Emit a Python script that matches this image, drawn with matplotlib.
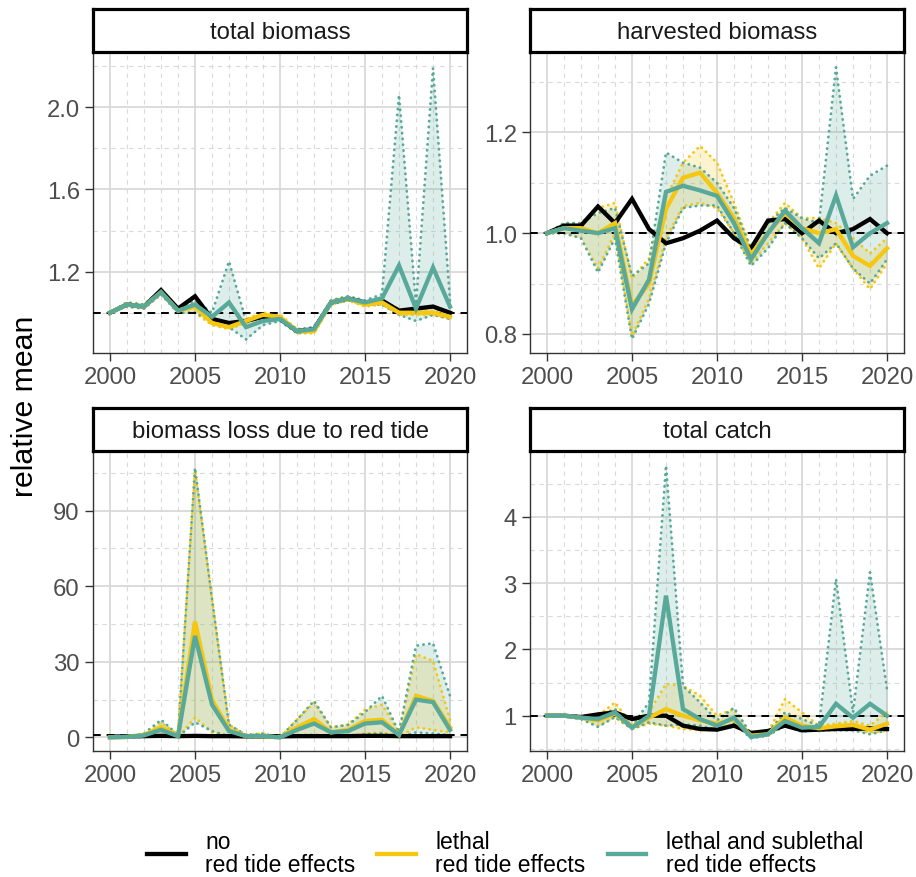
import numpy as np
import matplotlib
matplotlib.use("Agg")
import matplotlib.pyplot as plt
from matplotlib.lines import Line2D
from matplotlib.ticker import FixedLocator, FixedFormatter

plt.rcParams['font.family'] = ['Liberation Sans', 'DejaVu Sans']

years = list(range(2000, 2021))

# ---- total biomass ----
tb_no = [1.00,1.04,1.03,1.11,1.02,1.08,0.97,0.95,0.96,0.98,0.97,0.91,0.92,1.05,1.07,1.05,1.06,1.01,1.02,1.03,1.00]
tb_leth = [1.00,1.04,1.03,1.10,1.01,1.03,0.95,0.93,0.96,0.99,0.98,0.91,0.91,1.05,1.07,1.04,1.05,1.00,1.00,1.00,0.98]
tb_leth_lo = [1.00,1.03,1.02,1.09,1.00,1.00,0.94,0.92,0.95,0.98,0.97,0.90,0.90,1.04,1.06,1.03,1.04,0.99,0.99,0.99,0.97]
tb_leth_hi = [1.00,1.05,1.04,1.11,1.02,1.05,0.97,0.95,0.97,1.00,0.99,0.92,0.92,1.06,1.08,1.05,1.06,1.02,1.01,1.01,1.00]
tb_sub = [1.00,1.04,1.03,1.10,1.01,1.04,0.98,1.05,0.93,0.96,0.97,0.91,0.92,1.05,1.07,1.05,1.07,1.23,1.02,1.22,1.03]
tb_sub_lo = [1.00,1.03,1.02,1.09,1.00,1.00,0.96,0.93,0.87,0.94,0.96,0.90,0.91,1.04,1.06,1.04,1.04,0.99,0.96,0.99,0.97]
tb_sub_hi = [1.00,1.05,1.04,1.11,1.02,1.06,1.00,1.25,0.96,0.98,0.98,0.92,0.93,1.06,1.08,1.06,1.09,2.06,1.04,2.19,1.06]

# ---- harvested biomass ----
hb_no = [1.00,1.015,1.015,1.053,1.02,1.068,1.008,0.98,0.99,1.005,1.025,0.99,0.97,1.025,1.028,1.00,1.025,1.00,1.008,1.028,1.00]
hb_leth = [1.00,1.01,1.01,1.00,1.02,0.856,0.90,1.048,1.11,1.12,1.08,1.03,0.958,1.00,1.04,1.01,1.00,1.008,0.955,0.935,0.97]
hb_leth_lo = [1.00,1.00,0.99,0.93,1.00,0.796,0.87,0.99,1.054,1.06,1.05,1.00,0.94,0.98,1.02,0.99,0.93,0.98,0.93,0.889,0.94]
hb_leth_hi = [1.00,1.02,1.02,1.05,1.06,0.91,0.95,1.07,1.14,1.173,1.14,1.06,0.97,1.02,1.06,1.03,1.03,1.02,0.99,0.96,0.99]
hb_sub = [1.00,1.01,1.005,1.00,1.01,0.849,0.908,1.082,1.094,1.085,1.074,1.02,0.948,1.00,1.045,1.01,0.98,1.075,0.972,1.00,1.02]
hb_sub_lo = [1.00,1.00,0.99,0.922,0.99,0.79,0.86,0.98,1.05,1.055,1.055,1.00,0.935,0.97,1.02,0.99,0.95,0.98,0.93,0.90,0.948]
hb_sub_hi = [1.00,1.02,1.02,1.04,1.05,0.915,0.94,1.16,1.14,1.13,1.10,1.05,0.97,1.02,1.05,1.03,1.02,1.329,1.068,1.114,1.134]

# ---- biomass loss due to red tide ----
bl_no = [0.3,0.4,0.5,0.6,0.5,0.6,0.5,0.5,0.4,0.4,0.4,0.5,0.5,0.5,0.5,0.6,0.6,0.5,0.5,0.5,0.5]
bl_leth = [0,0.2,1.0,4.0,0.5,46,15,3,0.5,0.5,0,4,7.3,2,3,6.5,7,1,16.5,14.5,4]
bl_leth_lo = [0,0,0.3,1.0,0.1,7.9,2,0.5,0.1,0.1,0,1,1.0,0.5,0.5,1.5,2,0.3,4,3,2]
bl_leth_hi = [0,0.5,1.5,6,1,106,55,5,1,1.5,0,7,13.9,4,5,11,13,2,33,30.4,7]
bl_sub = [0,0.2,0.8,3,0.5,40.3,13,2.5,0.5,0.5,0,3,5.5,2,2.5,5.5,6,1,15,14,3]
bl_sub_lo = [0,0,0.2,0.8,0.1,6,2.5,0.5,0.1,0.1,0,0.8,1,0.4,0.5,1.2,1.5,0.2,2,1.5,1]
bl_sub_hi = [0,0.5,1.5,7,1,107,55,5,1,1.5,0,7,14.5,4,5,10,16.5,2,36.4,37.4,16.5]

# ---- total catch ----
br_no = [1.00,1.00,0.98,1.02,1.05,0.95,1.00,1.00,0.85,0.80,0.79,0.85,0.74,0.77,0.85,0.78,0.79,0.80,0.80,0.81,0.80]
br_leth = [1.00,1.00,0.97,0.93,1.03,0.83,0.97,1.10,1.00,0.93,0.88,0.95,0.70,0.72,0.97,0.85,0.81,0.84,0.86,0.79,0.88]
br_leth_lo = [1.00,0.99,0.95,0.85,0.98,0.80,0.88,0.85,0.80,0.78,0.80,0.88,0.68,0.70,0.88,0.79,0.78,0.80,0.80,0.75,0.77]
br_leth_hi = [1.00,1.01,0.99,1.00,1.20,0.86,1.05,1.48,1.45,1.30,1.00,1.10,0.72,0.75,1.25,1.05,0.85,0.88,0.92,0.85,1.05]
br_sub = [1.00,1.00,0.97,0.95,1.05,0.82,1.00,2.81,1.10,0.95,0.85,0.97,0.68,0.72,0.92,0.82,0.83,1.18,0.97,1.18,1.00]
br_sub_lo = [1.00,0.99,0.95,0.83,0.98,0.80,0.90,0.85,0.87,0.85,0.78,0.88,0.66,0.70,0.85,0.76,0.78,0.78,0.78,0.72,0.78]
br_sub_hi = [1.00,1.01,0.99,1.00,1.10,0.85,1.20,4.77,1.45,1.20,0.93,1.12,0.72,0.75,1.05,0.95,0.85,3.06,1.05,3.16,1.40]

panel_titles = ["total biomass", "harvested biomass", "biomass loss due to red tide", "total catch"]
legend_labels = ["no\nred tide effects", "lethal\nred tide effects", "lethal and sublethal\nred tide effects"]
x_ticks = [2000, 2005, 2010, 2015, 2020]

panels = [
    dict(no=tb_no, leth=tb_leth, leth_lo=tb_leth_lo, leth_hi=tb_leth_hi,
         sub=tb_sub, sub_lo=tb_sub_lo, sub_hi=tb_sub_hi,
         ylim=(0.804, 2.269), major=[0.8, 1.2, 1.6, 2.0], labels=["0.8", "1.2", "1.6", "2.0"],
         minor=[1.0, 1.4, 1.8, 2.2]),
    dict(no=hb_no, leth=hb_leth, leth_lo=hb_leth_lo, leth_hi=hb_leth_hi,
         sub=hb_sub, sub_lo=hb_sub_lo, sub_hi=hb_sub_hi,
         ylim=(0.7622, 1.3596), major=[0.8, 1.0, 1.2], labels=["0.8", "1.0", "1.2"],
         minor=[0.9, 1.1, 1.3]),
    dict(no=bl_no, leth=bl_leth, leth_lo=bl_leth_lo, leth_hi=bl_leth_hi,
         sub=bl_sub, sub_lo=bl_sub_lo, sub_hi=bl_sub_hi,
         ylim=(-5.4, 113.7), major=[0, 30, 60, 90], labels=["0", "30", "60", "90"],
         minor=[15, 45, 75, 105]),
    dict(no=br_no, leth=br_leth, leth_lo=br_leth_lo, leth_hi=br_leth_hi,
         sub=br_sub, sub_lo=br_sub_lo, sub_hi=br_sub_hi,
         ylim=(0.468, 4.99), major=[1, 2, 3, 4], labels=["1", "2", "3", "4"],
         minor=[0.5, 1.5, 2.5, 3.5, 4.5]),
]

C_NO = "#000000"
C_LETH = "#F5C710"
C_SUB = "#58A99A"

W, H = 916, 878
fig = plt.figure(figsize=(W / 100, H / 100), dpi=100)

# panel pixel boxes: (left, top, right, bottom)
boxes = [(93, 53, 467, 354), (530, 53, 904, 354), (93, 452, 467, 752), (530, 452, 904, 752)]
strip_h = 43
FS = 17.2

for p, box, title in zip(panels, boxes, panel_titles):
    l, t, r, b = box
    ax = fig.add_axes([l / W, 1 - b / H, (r - l) / W, (b - t) / H])
    sx = fig.add_axes([l / W, 1 - t / H, (r - l) / W, strip_h / H])
    # strip
    sx.set_xticks([]); sx.set_yticks([])
    sx.set_facecolor("white")
    for s in sx.spines.values():
        s.set_linewidth(2.3); s.set_color("black")
    sx.text(0.5, 0.47, title, ha="center", va="center", fontsize=FS, color="#1A1A1A", transform=sx.transAxes)

    ax.set_xlim(1999, 2021)
    ax.set_ylim(*p["ylim"])
    ax.xaxis.set_major_locator(FixedLocator(x_ticks))
    ax.xaxis.set_minor_locator(FixedLocator([y for y in years if y not in x_ticks]))
    ax.yaxis.set_major_locator(FixedLocator(p["major"]))
    ax.yaxis.set_major_formatter(FixedFormatter(p["labels"]))
    ax.yaxis.set_minor_locator(FixedLocator(p["minor"]))
    ax.grid(which="major", color="#D6D6D6", linewidth=1.2, linestyle="-")
    ax.grid(which="minor", color="#DADADA", linewidth=0.8, linestyle=(0, (4, 4)))
    ax.set_axisbelow(True)
    ax.tick_params(which="major", length=5.5, width=1.0, color="#333333", labelsize=FS,
                   labelcolor="#4D4D4D", pad=4)
    ax.tick_params(which="minor", length=0)
    for s in ax.spines.values():
        s.set_linewidth(1.0); s.set_color("#333333")

    # ribbons
    ax.fill_between(years, p["leth_lo"], p["leth_hi"], color=C_LETH, alpha=0.2, linewidth=0, zorder=2)
    ax.fill_between(years, p["sub_lo"], p["sub_hi"], color=C_SUB, alpha=0.2, linewidth=0, zorder=2)
    dot = (0, (0.1, 2.0))
    for key in ("leth_lo", "leth_hi"):
        ax.plot(years, p[key], color=C_LETH, linewidth=2.0, linestyle=dot, dash_capstyle="round", zorder=3)
    for key in ("sub_lo", "sub_hi"):
        ax.plot(years, p[key], color=C_SUB, linewidth=2.0, linestyle=dot, dash_capstyle="round", zorder=3)
    ax.axhline(1, color="black", linewidth=1.4, linestyle=(0, (4, 3)), zorder=4)
    ax.plot(years, p["no"], color=C_NO, linewidth=3.1, zorder=5, solid_joinstyle="miter")
    ax.plot(years, p["leth"], color=C_LETH, linewidth=3.1, zorder=5, solid_joinstyle="miter")
    ax.plot(years, p["sub"], color=C_SUB, linewidth=3.1, zorder=5, solid_joinstyle="miter")

fig.text(25 / W, 1 - 406 / H, "relative mean", rotation=90, ha="center", va="center", fontsize=21.8, color="black")

handles = [Line2D([], [], color=c, linewidth=3.1) for c in (C_NO, C_LETH, C_SUB)]
leg = fig.legend(handles, legend_labels, loc="center left", bbox_to_anchor=(147 / W, 1 - 854 / H), ncol=3,
                 frameon=False, fontsize=16.5, handlelength=1.68, handletextpad=0.85, columnspacing=0.97,
                 labelspacing=0.1, borderpad=0.0, borderaxespad=0.0)
for txt in leg.get_texts():
    txt.set_linespacing(1.0)

fig.savefig("out.png", dpi=100)
